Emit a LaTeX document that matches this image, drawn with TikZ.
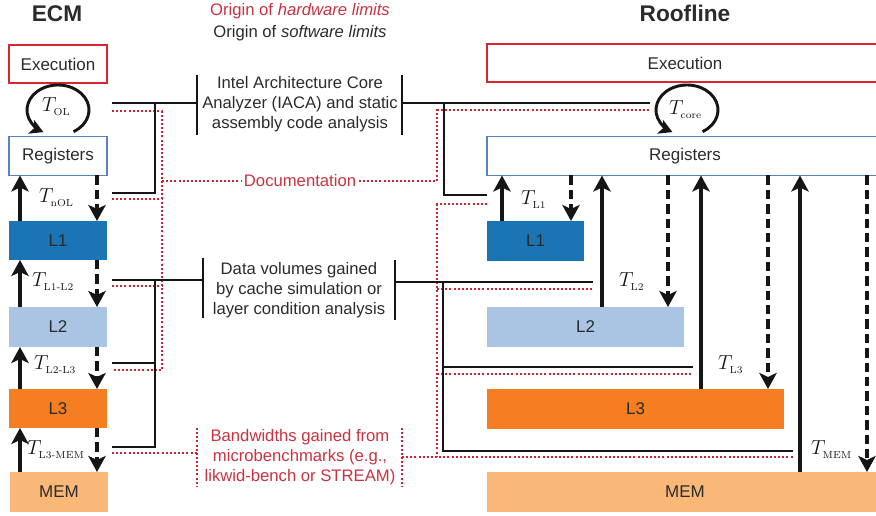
\RequirePackage{fix-cm}
\documentclass[tikz,border=0pt]{standalone}
\usepackage[no-math]{fontspec}
\setmainfont{Liberation Sans}
\usetikzlibrary{arrows.meta}
\definecolor{exred}{HTML}{D9262E}
\definecolor{txred}{HTML}{C93240}
\definecolor{dotred}{HTML}{CC2233}
\definecolor{regblue}{HTML}{5784B8}
\definecolor{cone}{HTML}{1B75B4}
\definecolor{ctwo}{HTML}{AAC5E4}
\definecolor{cthree}{HTML}{F47E21}
\definecolor{cmem}{HTML}{F9B878}
\definecolor{ink}{HTML}{2B2B2B}
\definecolor{lnk}{HTML}{151515}
\begin{document}
\begin{tikzpicture}[x=0.75pt,y=-0.75pt,
  every node/.style={inner sep=0pt,outer sep=0pt},
  boxtxt/.style={font=\fontsize{12.75}{15}\selectfont,text=ink},
  exbox/.style={boxtxt,draw=exred,line width=1.5pt,fill=white},
  regbox/.style={boxtxt,draw=regblue,line width=1.2pt,fill=white},
  lbox/.style={boxtxt,minimum width=73.5pt,minimum height=29.25pt},
  wbox/.style={boxtxt,minimum width=297pt,minimum height=29.25pt},
  title/.style={font=\fontsize{17}{20}\selectfont\bfseries,text=ink},
  mid/.style={font=\fontsize{12.5}{15}\selectfont,text=ink,align=center},
  midred/.style={mid,text=txred},
  tl/.style={font=\fontsize{15.2}{17}\selectfont,text=lnk,anchor=base west},
  uparr/.style={line width=2.6pt,draw=lnk,-{Stealth[length=12pt,width=13pt,inset=3pt]}},
  dnarr/.style={uparr,dash pattern=on 7pt off 3.8pt},
  loopa/.style={line width=2.2pt,draw=lnk,-{Stealth[length=10pt,width=11pt,inset=2.5pt]}},
  brk/.style={line width=1.8pt,draw=lnk},
  bar/.style={line width=2.2pt,draw=lnk},
  dots/.style={line width=1.8pt,draw=dotred,dash pattern=on 1.5pt off 1.6pt},
]
\useasboundingbox (0,0) rectangle (876,516);
\clip (0,0) rectangle (876,516);

% titles
\node[title] (ecm) at (57,14) {ECM};
\node[title] (roof) at (685,13) {Roofline};
\node[mid,text=txred] (hw) at (300,11) {Origin of \textit{hardware limits}};
\node[mid] (sw) at (300,33) {Origin of \textit{software limits}};

% ---------- ECM column ----------
\node[lbox,exbox,minimum height=28.5pt] (exL) at (58,64) {Execution};
\node[lbox,regbox] (regL) at (58,156) {Registers};
\node[lbox,fill=cone] (l1L) at (58,240.5) {L1};
\node[lbox,fill=ctwo,minimum height=30pt] (l2L) at (58,327) {L2};
\node[lbox,fill=cthree] (l3L) at (58,408.5) {L3};
\node[lbox,fill=cmem,minimum height=30pt] (memL) at (59,492) {MEM};

\coordinate (uL) at (20,0);
\coordinate (dL) at (97,0);
\draw[uparr] (l1L.north -| uL) -- (regL.south -| uL);
\draw[dnarr] (regL.south -| dL) -- (l1L.north -| dL);
\draw[uparr] (l2L.north -| uL) -- (l1L.south -| uL);
\draw[dnarr] (l1L.south -| dL) -- (l2L.north -| dL);
\draw[uparr] (l3L.north -| uL) -- (l2L.south -| uL);
\draw[dnarr] (l2L.south -| dL) -- (l3L.north -| dL);
\draw[uparr] (memL.north -| uL) -- (l3L.south -| uL);
\draw[dnarr] (l3L.south -| dL) -- (memL.north -| dL);

\coordinate (cL) at (58,110);
\draw[loopa] (cL) ++(60:31 and 25) arc[start angle=60,end angle=-242,x radius=31,y radius=25];

\node[tl] (tOL) at (42,112) {$T_{\scriptscriptstyle\mathrm{OL}}$};
\node[tl] (tnOL) at (39,203) {$T_{\scriptscriptstyle\mathrm{nOL}}$};
\node[tl] (tL1L2) at (32,287) {$T_{\scriptscriptstyle\mathrm{L1\mathchar"2D L2}}$};
\node[tl] (tL2L3) at (34,370) {$T_{\scriptscriptstyle\mathrm{L2\mathchar"2D L3}}$};
\node[tl] (tL3M) at (27,455) {$T_{\scriptscriptstyle\mathrm{L3\mathchar"2D MEM}}$};

% ---------- Roofline column ----------
\node[wbox,exbox,minimum height=28.5pt] (exR) at (685,63.5) {Execution};
\node[wbox,regbox] (regR) at (685,156) {Registers};
\node[boxtxt,fill=cone,minimum width=72.75pt,minimum height=30pt] (l1R) at (535.5,241) {L1};
\node[boxtxt,fill=ctwo,minimum width=147.75pt,minimum height=30pt] (l2R) at (585.5,327) {L2};
\node[boxtxt,fill=cthree,minimum width=222.75pt,minimum height=30pt] (l3R) at (635.5,409) {L3};
\node[wbox,fill=cmem,minimum height=30pt] (memR) at (685,492) {MEM};

\coordinate (u1) at (502,0);  \coordinate (d1) at (571,0);
\coordinate (u2) at (602,0);  \coordinate (d2) at (668,0);
\coordinate (u3) at (701,0);  \coordinate (d3) at (768,0);
\coordinate (u4) at (800,0);  \coordinate (d4) at (867,0);
\draw[uparr] (l1R.north -| u1) -- (regR.south -| u1);
\draw[dnarr] (regR.south -| d1) -- (l1R.north -| d1);
\draw[uparr] (l2R.north -| u2) -- (regR.south -| u2);
\draw[dnarr] (regR.south -| d2) -- (l2R.north -| d2);
\draw[uparr] (l3R.north -| u3) -- (regR.south -| u3);
\draw[dnarr] (regR.south -| d3) -- (l3R.north -| d3);
\draw[uparr] (memR.north -| u4) -- (regR.south -| u4);
\draw[dnarr] (regR.south -| d4) -- (memR.north -| d4);

\coordinate (cR) at (687,110);
\draw[loopa] (cR) ++(60:31 and 25) arc[start angle=60,end angle=-242,x radius=31,y radius=25];

\node[tl] (tcore) at (669,115) {$T_{\scriptscriptstyle\mathrm{core}}$};
\node[tl] (tL1) at (521,205) {$T_{\scriptscriptstyle\mathrm{L1}}$};
\node[tl] (tL2) at (619,287) {$T_{\scriptscriptstyle\mathrm{L2}}$};
\node[tl] (tL3) at (718,370) {$T_{\scriptscriptstyle\mathrm{L3}}$};
\node[tl] (tMEM) at (811,455) {$T_{\scriptscriptstyle\mathrm{MEM}}$};

% ---------- middle annotations ----------
\node[mid] (iaca) at (300,104) {Intel Architecture Core\\Analyzer (IACA) and static\\assembly code analysis};
\node[midred] (doc) at (300,181) {Documentation};
\node[mid] (dvol) at (299,290) {Data volumes gained\\by cache simulation or\\layer condition analysis};
\node[midred] (bw) at (300,457) {Bandwidths gained from\\microbenchmarks (e.g.,\\likwid-bench or STREAM)};

% red dotted (hardware) lines
\draw[dots] (112,111) -- (162,111) -- (162,370) -- (112,370);
\draw[dots] (112,199) -- (162,199);
\draw[dots] (112,286) -- (162,286);
\draw[dots] (162,181) -- ([xshift=-2pt]doc.west);
\draw[dots] ([xshift=2pt]doc.east) -- (437,181) -- (437,110) -- (650,110);
\draw[dots] (487,204) -- (437,204) -- (437,457);
\draw[dots] (437,289) -- (593,289);
\draw[dots] (437,374) -- (693,374);
\draw[dots] (112,453) -- (197,453);
\draw[dots] (197,428) -- (197,486);
\draw[dots] (402,428) -- (402,487);
\draw[dots] (402,457) -- (793,457);

% black (software) brackets
\draw[brk] (112,103) -- (197,103);
\draw[brk] (155,103) -- (155,193) -- (112,193);
\draw[bar] (197,75) -- (197,135);
\draw[bar] (402,75) -- (402,135);
\draw[brk] (402,103) -- (650,103);
\draw[brk] (444,103) -- (444,195) -- (487,195);

\draw[brk] (112,280) -- (203,280);
\draw[brk] (155,280) -- (155,447) -- (112,447);
\draw[brk] (155,363) -- (112,363);
\draw[bar] (203,258) -- (203,318);
\draw[bar] (395,260) -- (395,320);
\draw[brk] (395,282) -- (593,282);
\draw[brk] (443,282) -- (443,451) -- (793,451);
\draw[brk] (443,367) -- (693,367);
\end{tikzpicture}
\end{document}
